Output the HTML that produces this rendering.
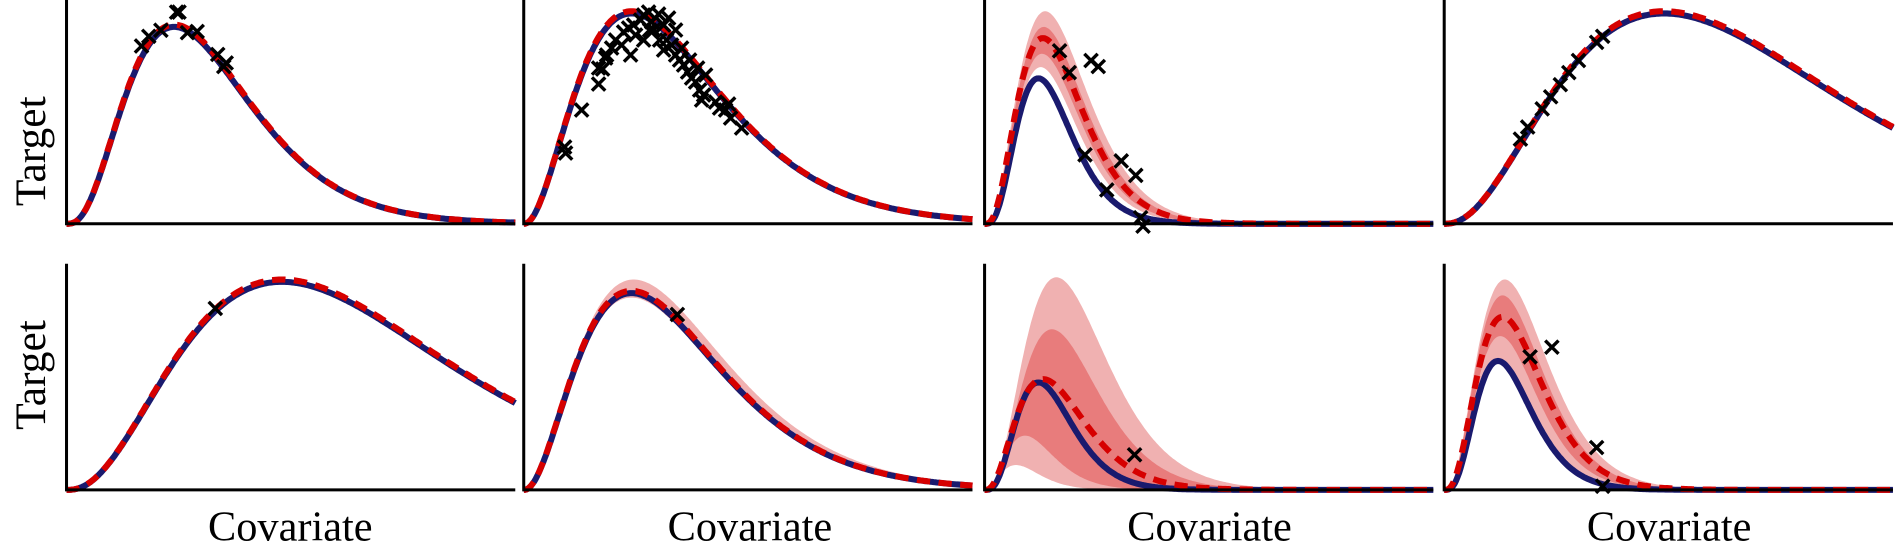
<!DOCTYPE html>
<html><head><meta charset="utf-8">
<style>html,body{margin:0;padding:0;background:#fff;overflow:hidden}svg{display:block}</style>
</head><body>
<svg id="s" width="1899" height="551" viewBox="0 0 1570 455.5" xmlns="http://www.w3.org/2000/svg">
<text x="29" y="125" font-family="Liberation Serif, serif" font-size="36" text-anchor="middle" transform="rotate(-90 29 125)" dominant-baseline="middle">Target</text>
<text x="29" y="310" font-family="Liberation Serif, serif" font-size="36" text-anchor="middle" transform="rotate(-90 29 310)" dominant-baseline="middle">Target</text>
<text x="240" y="447" font-family="Liberation Serif, serif" font-size="35" text-anchor="middle">Covariate</text>
<text x="620" y="447" font-family="Liberation Serif, serif" font-size="35" text-anchor="middle">Covariate</text>
<text x="1000" y="447" font-family="Liberation Serif, serif" font-size="35" text-anchor="middle">Covariate</text>
<text x="1380" y="447" font-family="Liberation Serif, serif" font-size="35" text-anchor="middle">Covariate</text>
</svg>
<script>
var S=document.getElementById('s'),NS='http://www.w3.org/2000/svg';
function el(n,a){var e=document.createElementNS(NS,n);for(var k in a)e.setAttribute(k,a[k]);S.appendChild(e);return e;}
var cols=[55,433,814,1194],W=371,rows=[[0,185],[218,405]];
function g(t,tp,k){if(t<=0)return 0;var r=t/tp;return Math.pow(r*Math.exp(1-r),k);}
function pts(c,r,A,tp,k){var x0=cols[c],b=rows[r][1],H=rows[r][1]-rows[r][0],p=[];for(var i=0;i<=300;i++){var t=i/300;p.push([x0+t*W,b-H*A*g(t,tp,k)]);}return p;}
function d(p){return 'M'+p.map(function(q){return q[0].toFixed(1)+','+q[1].toFixed(1)}).join('L');}
function band(c,r,u,l,fill){var pu=pts(c,r,u[0],u[1],u[2]),pl=pts(c,r,l[0],l[1],l[2]).reverse();el('path',{d:d(pu)+'L'+pl.map(function(q){return q[0].toFixed(1)+','+q[1].toFixed(1)}).join('L')+'Z',fill:fill});}
function lines(c,r,bl,rd){el('path',{d:d(pts(c,r,bl[0],bl[1],bl[2])),fill:'none',stroke:'#1a1a6e','stroke-width':5});el('path',{d:d(pts(c,r,rd[0],rd[1],rd[2])),fill:'none',stroke:'#d60000','stroke-width':5,'stroke-dasharray':'11 7'});}
function crosses(L){L.forEach(function(q){var x=q[0],y=q[1],s=5.5;el('path',{d:'M'+(x-s)+','+(y-s)+'L'+(x+s)+','+(y+s)+'M'+(x-s)+','+(y+s)+'L'+(x+s)+','+(y-s),stroke:'#000','stroke-width':2.8,fill:'none'});});}
var LB='#f0b1b1',DB='#e87c7c';
lines(0,0,[0.88,0.24,2.9],[0.89,0.24,2.9]);
lines(1,0,[0.94,0.24,2.2],[0.95,0.24,2.2]);
band(2,0,[0.95,0.135,2.9],[0.70,0.125,3.3],LB);
band(2,0,[0.88,0.132,3.0],[0.76,0.128,3.2],DB);
lines(2,0,[0.65,0.12,3.6],[0.83,0.13,3.1]);
lines(3,0,[0.94,0.49,2.4],[0.95,0.49,2.4]);
lines(0,1,[0.92,0.48,2.5],[0.93,0.48,2.5]);
band(1,1,[0.93,0.245,2.15],[0.85,0.24,2.25],LB);
lines(1,1,[0.87,0.24,2.2],[0.88,0.24,2.2]);
band(2,1,[0.94,0.16,2.9],[0.11,0.07,2.6],LB);
band(2,1,[0.71,0.15,3.0],[0.24,0.09,2.8],DB);
lines(2,1,[0.475,0.12,3.6],[0.49,0.13,2.8]);
band(3,1,[0.93,0.135,2.9],[0.58,0.12,3.5],LB);
band(3,1,[0.86,0.13,3.0],[0.68,0.125,3.3],DB);
lines(3,1,[0.57,0.12,3.6],[0.765,0.13,3.1]);
for(var c=0;c<4;c++)for(var r=0;r<2;r++){var x=cols[c],t=rows[r][0],b=rows[r][1];el('path',{d:'M'+x+','+t+'L'+x+','+b+'L'+(x+W)+','+b,stroke:'#000','stroke-width':2.5,fill:'none'});}
var k=1/1.2096;
crosses([[117,38],[123,30],[133,25],[146,10],[148,10],[155,27],[163,26],[180,45],[185,55],[187,52]]);
var p2=[[562,153],[561,147],[578,110],[595,84],[595,68],[599,69],[603,55],[608,48],[612,40],[620,32],[625,28],[630,25],[640,15],[645,12],[637,20],[627,55],[650,30],[656,40],[660,25],[663,40],[668,45],[672,55],[676,60],[680,65],[684,72],[688,78],[692,82],[696,90],[700,95],[702,75],[698,100],[712,102],[716,108],[722,110],[725,104],[727,118],[738,128],[655,14],[648,22],[632,35],[618,45],[665,18],[672,30],[686,60],[694,68],[602,58],[640,40],[646,30],[660,50],[678,48]];
crosses(p2.map(function(q){return [q[0]*k+3,q[1]*k]}));
crosses([[876,42],[884,60],[902,50],[908,55],[897,128],[927,133],[939,145],[915,157],[943,180],[945,187]]);
crosses([[1257,115],[1263,105],[1275,90],[1282,80],[1290,70],[1297,60],[1305,50],[1320,35],[1325,30]]);
crosses([[178,255],[560,260],[938,376],[1265,295],[1283,287],[1320,370],[1325,402]]);
</script>
</body></html>
